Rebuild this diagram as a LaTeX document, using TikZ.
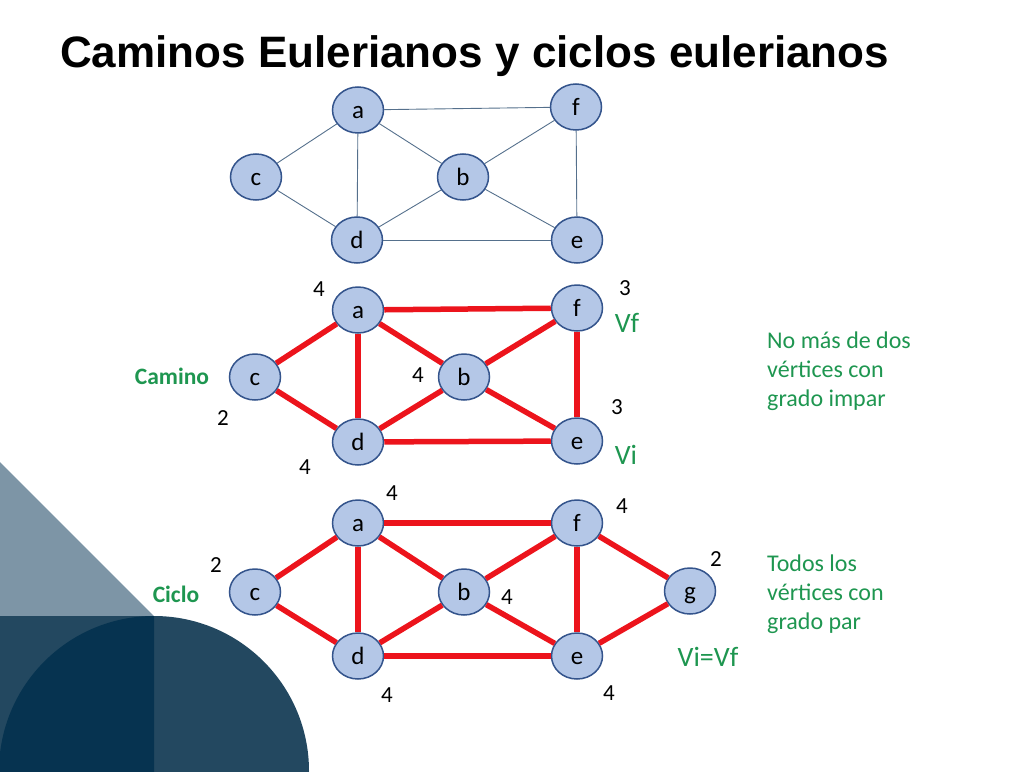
\documentclass[tikz,border=0pt]{standalone}
\usepackage{fontspec}
\setmainfont{Carlito}
\newfontfamily\titlefont{Liberation Sans}
\usetikzlibrary{shapes.geometric}
\definecolor{nodefill}{RGB}{180,199,231}
\definecolor{nodeline}{RGB}{52,84,140}
\definecolor{plaincol}{RGB}{85,112,140}
\definecolor{redcol}{RGB}{236,20,28}
\definecolor{grn}{RGB}{30,150,80}
\definecolor{tri}{RGB}{125,149,166}
\definecolor{darkA}{RGB}{35,72,96}
\definecolor{darkB}{RGB}{6,51,80}
\begin{document}
\begin{tikzpicture}[x=1pt,y=-1pt,
  vert/.style={ellipse, draw=nodeline, line width=1.5pt, fill=nodefill,
    minimum width=51pt, minimum height=46pt, inner sep=0pt,
    text height=16pt, text depth=0pt,
    font=\fontsize{25}{28}\selectfont},
  plainedge/.style={draw=plaincol, line width=0.9pt},
  rededge/.style={draw=redcol, line width=5.5pt},
  deg/.style={font=\fontsize{23}{27}\selectfont, inner sep=0pt},
  glab/.style={text=grn, font=\fontsize{28}{32}\selectfont, inner sep=0pt},
  gbold/.style={text=grn, font=\bfseries\fontsize{23.5}{27}\selectfont, inner sep=0pt},
  note/.style={text=grn, font=\fontsize{24}{29}\selectfont, align=left, anchor=west, inner sep=0pt}
]
\useasboundingbox (0,0) rectangle (1028,771);
\begin{scope}
  \clip (0,0) rectangle (1028,771);
  \fill[tri] (0,462) -- (154,616) -- (0,616) -- cycle;
  \fill[darkA] (0,616) rectangle (154,771);
  \fill[darkA] (154,771) circle (155pt);
  \begin{scope}
    \clip (0,616) rectangle (154,771);
    \fill[darkB] (154,771) circle (155pt);
  \end{scope}
\end{scope}

\node[anchor=base west, inner sep=0pt, font=\titlefont\bfseries\fontsize{44}{50}\selectfont] (title) at (60,67) {Caminos Eulerianos y ciclos eulerianos};

% top graph
\node[vert] (a1) at (358,110) {a};
\node[vert] (f1) at (576,107) {f};
\node[vert] (c1) at (256,177) {c};
\node[vert] (b1) at (463,177) {b};
\node[vert] (d1) at (357,240) {d};
\node[vert] (e1) at (577,240) {e};
\foreach \u/\v in {a1/f1,a1/c1,a1/d1,a1/b1,c1/d1,b1/f1,b1/d1,b1/e1,d1/e1,f1/e1}
  \draw[plainedge] (\u) -- (\v);

% middle graph
\node[vert] (a2) at (358,310) {a};
\node[vert] (f2) at (577,308) {f};
\node[vert] (c2) at (255,377) {c};
\node[vert] (b2) at (464,377) {b};
\node[vert] (d2) at (358,442) {d};
\node[vert] (e2) at (577,441) {e};
\foreach \u/\v in {a2/f2,a2/c2,a2/d2,a2/b2,c2/d2,b2/f2,b2/d2,b2/e2,d2/e2,f2/e2}
  \draw[rededge] (\u) -- (\v);
\node[deg] (m4a) at (319,289) {4};
\node[deg] (m3f) at (625,288) {3};
\node[glab] (vf) at (627,323) {Vf};
\node[gbold] (camino) at (172,376) {Camino};
\node[deg] (m4b) at (418,375) {4};
\node[deg] (m2c) at (223,418) {2};
\node[deg] (m3e) at (617,407) {3};
\node[glab] (vi) at (626,455) {Vi};
\node[deg] (m4d) at (305,467) {4};

% bottom graph
\node[vert] (a3) at (358,523) {a};
\node[vert] (f3) at (577,523) {f};
\node[vert] (c3) at (255,592) {c};
\node[vert] (b3) at (464,592) {b};
\node[vert] (d3) at (358,656) {d};
\node[vert] (e3) at (577,656) {e};
\node[vert] (g3) at (690,591) {g};
\foreach \u/\v in {a3/f3,a3/c3,a3/d3,a3/b3,c3/d3,b3/f3,b3/d3,b3/e3,d3/e3,f3/e3,f3/g3,e3/g3}
  \draw[rededge] (\u) -- (\v);
\node[deg] (b4a) at (392,493) {4};
\node[deg] (b4f) at (622,506) {4};
\node[deg] (b2c) at (216,565) {2};
\node[deg] (b2g) at (716,559) {2};
\node[gbold] (ciclo) at (176,594) {Ciclo};
\node[deg] (b4b) at (507,597) {4};
\node[glab] (vivf) at (708,657) {Vi=Vf};
\node[deg] (b4d) at (387,695) {4};
\node[deg] (b4e) at (609,693) {4};

% notes
\node[note] (note1) at (767,371) {No más de dos\\vértices con\\grado impar};
\node[note] (note2) at (767,594) {Todos los\\vértices con\\grado par};
\end{tikzpicture}
\end{document}
